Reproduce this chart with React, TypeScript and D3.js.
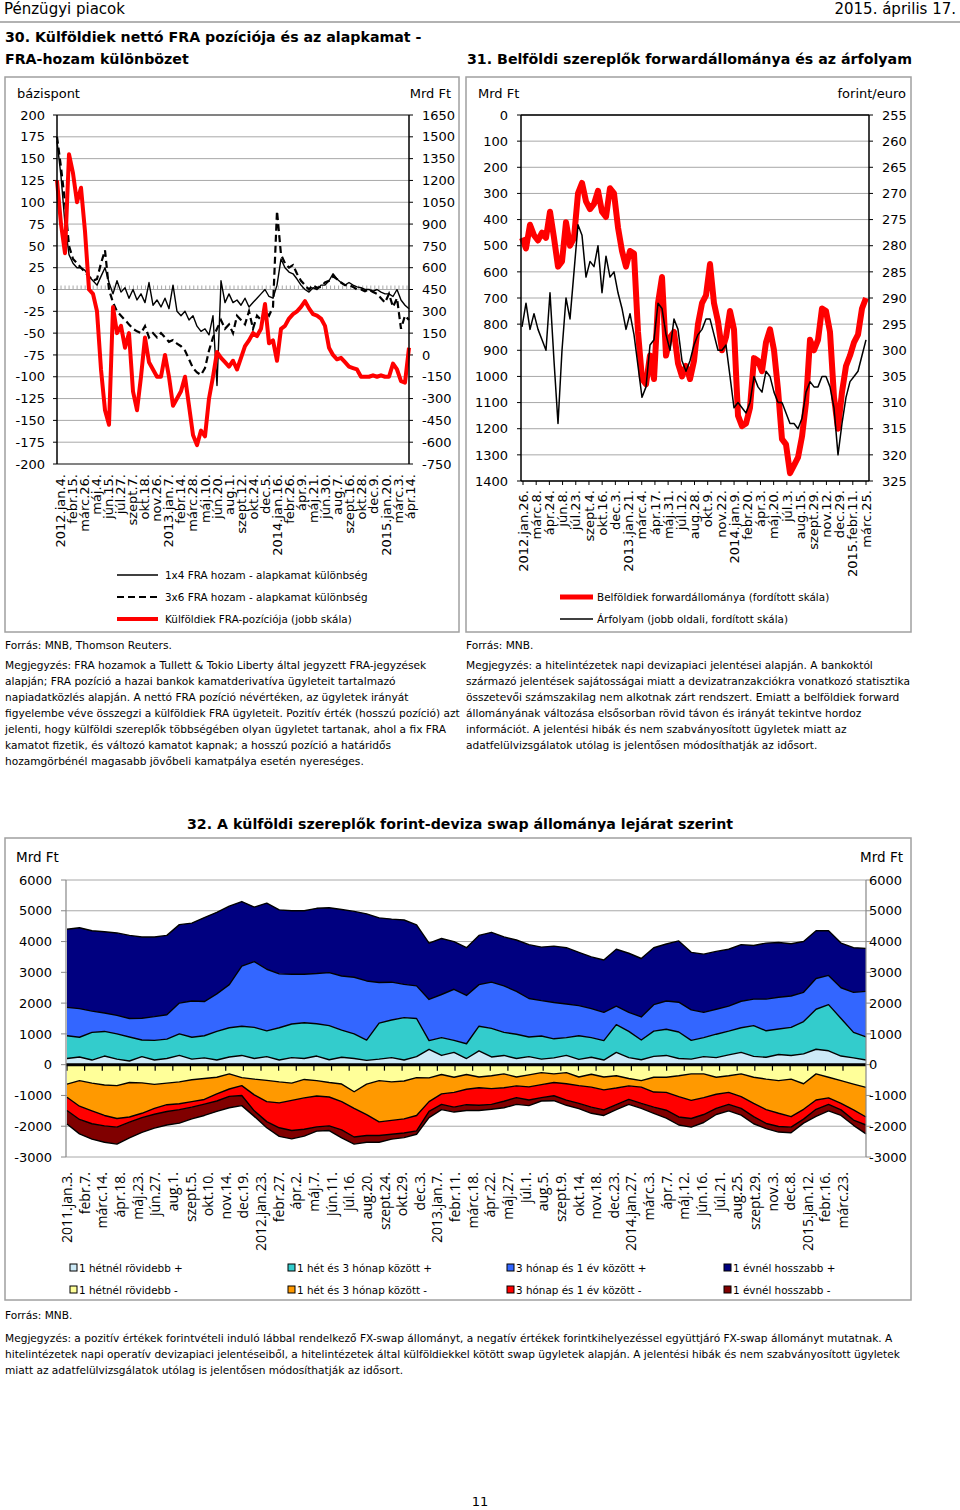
import React from 'react';
import * as d3 from 'd3';

// ---- fonts / colours ----
const SANS = "'DejaVu Sans', Verdana, sans-serif";
const GRID = '#a8a8a8';
const FRAME = '#a0a0a0';

// ---- chart 30: FRA ----
const fraDateLabels = [
  '2012.jan.4.', 'febr.15.', 'márc.26.', 'máj.4.', 'jún.15.', 'júl.27.', 'szept.7.', 'okt.18.', 'nov.26.',
  '2013.jan.7.', 'febr.14.', 'márc.28.', 'máj.10.', 'jún.20.', 'aug.1.', 'szept.12.', 'okt.24.', 'dec.5.',
  '2014.jan.16.', 'febr.26.', 'ápr.9.', 'máj.21.', 'jún.30.', 'aug.7.', 'szept.16.', 'okt.28.', 'dec.9.',
  '2015.jan.20.', 'márc.3.', 'ápr.14.',
];
// bázispont
const spread1x4 = [
  170, 130, 75, 40, 30, 25, 25, 22, 15, 10, 5, 15, 25, 8, -5, 10, -3, 2, -10, 0,
  -12, -5, -15, 8, -18, -12, -20, -10, -22, 5, -25, -30, -25, -35, -30, -42, -48, -45, -52, -30,
  -110, 10, -15, -5, -15, -12, -18, -10, -20, -15, -10, -5, 0, -8, -10, 5, 35, 25, 20, 18,
  12, 5, 0, -3, 2, 0, 5, 5, 10, 18, 12, 8, 5, 8, 5, 3, 2, 0, 0, -2,
  0, -3, -5, -5, -8, 0, -12, -18, -22,
];
const spread3x6 = [
  175, 140, 100, 50, 35, 30, 25, 20, 15, 10, 12, 30, 45, 0, -15, -25, -30, -35, -40, -45,
  -48, -50, -42, -55, -50, -55, -50, -55, -60, -58, -62, -65, -70, -80, -90, -95, -98, -90, -70, -55,
  -45, -35, -45, -40, -50, -30, -35, -40, -25, -45, -30, -35, -25, -30, -20, 90, 40, 30, 25, 28,
  18, 10, 5, 0, 5, 2, 3, 8, 10, 15, 12, 8, 5, 5, 3, 0, 0, -2, 0, -3,
  -5, -10, -15, -5, -20, -10, -45, -30, -35,
];
// Mrd Ft
const fraPosition = [
  1200, 900, 700, 1380, 1250, 1050, 1150, 850, 450, 420, 300, -100, -380, -480, 330, 150, 200, 50, 150, -250,
  -380, -150, 120, -50, -100, -150, -150, 0, -150, -350, -300, -250, -150, -350, -550, -620, -520, -560, -300, -150,
  20, -20, -50, -80, -40, -100, -20, 60, 100, 150, 130, 180, 350, 80, 100, -40, 180, 200, 250, 280,
  300, 330, 370, 320, 280, 270, 250, 200, 50, 0, -30, -20, -50, -80, -90, -100, -150, -150, -150, -140,
  -150, -140, -150, -150, -60, -100, -180, -190, 50,
];

// ---- chart 31: forward ----
const fwdDateLabels = [
  '2012.jan.26.', 'márc.8.', 'ápr.24.', 'jún.8.', 'júl.23.', 'szept.4.', 'okt.16.', 'dec.3.',
  '2013.jan.21.', 'márc.4.', 'ápr.17.', 'máj.31.', 'júl.12.', 'aug.28.', 'okt.9.', 'nov.22.',
  '2014.jan.9.', 'febr.20.', 'ápr.3.', 'máj.20.', 'júl.3.', 'aug.15.', 'szept.29.', 'nov.12.', 'dec.29.',
  '2015.febr.11.', 'márc.25.',
];
// Mrd Ft (fordított skála)
const forwardStock = [
  470, 510, 420, 460, 480, 450, 470, 370, 470, 580, 560, 410, 500, 470, 300, 260, 330, 360, 340, 290,
  370, 390, 280, 300, 430, 520, 580, 520, 530, 830, 1010, 1030, 920, 1010, 720, 620, 920, 850, 830, 950,
  1000, 960, 1010, 940, 800, 720, 690, 570, 720, 790, 900, 850, 750, 820, 1150, 1190, 1180, 1120, 930, 940,
  980, 870, 820, 900, 1050, 1240, 1260, 1370, 1340, 1310, 1230, 1100, 860, 900, 860, 740, 750, 830, 1080, 1200,
  1060, 960, 920, 870, 840, 740, 700,
];
// forint/euro (fordított skála)
const eurHuf = [
  295.5, 291, 296, 293, 296, 298, 300, 289, 302, 314, 300, 290, 294, 285, 276, 278, 286, 283, 284, 280,
  289, 282, 286, 285, 289, 292, 296, 293, 297, 303, 309, 307, 299, 298, 291, 292, 297, 300, 294, 296,
  302, 304, 302, 299, 297, 296, 294, 294, 297, 300, 300, 299, 305, 311, 310, 311, 312, 310, 305, 307,
  308, 304, 305, 308, 310, 310, 312, 314, 314, 315, 313, 308, 306, 307, 307, 305, 305, 307, 311, 320,
  314, 309, 306, 305, 304, 301, 298,
];

// ---- chart 32: swap by maturity ----
const swapDateLabels = [
  '2011.jan.3.', 'febr.7.', 'márc.14.', 'ápr.18.', 'máj.23.', 'jún.27.', 'aug.1.', 'szept.5.', 'okt.10.', 'nov.14.', 'dec.19.',
  '2012.jan.23.', 'febr.27.', 'ápr.2.', 'máj.7.', 'jún.11.', 'júl.16.', 'aug.20.', 'szept.24.', 'okt.29.', 'dec.3.',
  '2013.jan.7.', 'febr.11.', 'márc.18.', 'ápr.22.', 'máj.27.', 'júl.1.', 'aug.5.', 'szept.9.', 'okt.14.', 'nov.18.', 'dec.23.',
  '2014.jan.27.', 'márc.3.', 'ápr.7.', 'máj.12.', 'jún.16.', 'júl.21.', 'aug.25.', 'szept.29.', 'nov.3.', 'dec.8.',
  '2015.jan.12.', 'febr.16.', 'márc.23.',
];
const shortPlus = [
  200, 250, 150, 280, 180, 120, 260, 150, 200, 300, 180, 220, 150, 250, 300, 200, 260, 150, 230, 200,
  280, 160, 240, 200, 140, 180, 230, 150, 260, 500, 300, 400, 200, 450, 250, 300, 200, 260, 180, 220,
  300, 170, 240, 150, 400, 230, 160, 270, 300, 200, 180, 260, 230, 320, 400, 270, 240, 330, 300, 350,
  500, 450, 280, 220, 150,
];
const midPlus = [
  740, 640, 900, 800, 820, 780, 540, 640, 630, 700, 710, 720, 930, 950, 950, 1010, 840, 1050, 1090, 1160,
  1050, 1110, 880, 800, 660, 1170, 1220, 1380, 1240, 280, 580, 390, 480, 800, 930, 750, 790, 640, 750, 620,
  580, 770, 640, 630, 900, 850, 640, 820, 850, 860, 610, 620, 760, 770, 800, 1000, 860, 830, 910, 1050,
  1300, 1500, 1220, 830, 750,
];
const quarterPlus = [
  920, 930, 690, 600, 600, 600, 710, 770, 790, 1000, 1180, 1110, 1220, 1400, 1950, 2140, 2000, 1750, 1620, 1580,
  1630, 1720, 1760, 1840, 1920, 1320, 1230, 1080, 1060, 1340, 1400, 1660, 1570, 1350, 1500, 1510, 1390, 1250, 1150, 1180,
  1090, 980, 940, 920, 600, 620, 750, 860, 920, 970, 990, 820, 810, 810, 860, 860, 1030, 1030, 1020, 950,
  1000, 950, 1000, 1300, 1480,
];
const longPlus = [
  2540, 2630, 2610, 2640, 2680, 2700, 2640, 2590, 2580, 2550, 2530, 2730, 2650, 2550, 2100, 1770, 2150, 2080, 2060, 2060,
  2120, 2110, 2160, 2140, 2180, 2100, 2050, 2090, 1980, 1830, 1820, 1550, 1550, 1600, 1620, 1590, 1670, 1750, 1740, 1830,
  1830, 1730, 1680, 1700, 1850, 1920, 1900, 1850, 1850, 1990, 1870, 1890, 1880, 1850, 1840, 1740, 1820, 1780, 1700, 1650,
  1550, 1450, 1450, 1450, 1400,
];
const shortMinus = [
  -630, -520, -600, -660, -680, -580, -590, -640, -600, -560, -490, -450, -410, -300, -420, -470, -510, -560, -600, -480,
  -520, -580, -630, -880, -630, -520, -560, -530, -420, -430, -320, -410, -320, -400, -360, -300, -400, -330, -260, -300,
  -260, -400, -310, -400, -360, -450, -520, -410, -410, -360, -300, -300, -410, -360, -300, -410, -470, -520, -470, -620,
  -300, -410, -520, -630, -740,
];
const midMinus = [
  -430, -830, -900, -990, -1070, -1120, -990, -780, -700, -710, -710, -680, -540, -490, -260, -510, -690, -680, -560, -600,
  -500, -470, -570, -540, -990, -1340, -1250, -1230, -1230, -770, -630, -490, -480, -350, -420, -450, -290, -390, -390, -280,
  -360, -280, -420, -420, -400, -240, -210, -480, -490, -680, -860, -770, -550, -540, -740, -850, -990, -1060, -1220, -830,
  -850, -670, -740, -840, -960,
];
const quarterMinus = [
  -430, -430, -420, -340, -280, -170, -140, -190, -220, -190, -180, -150, -230, -240, -320, -520, -650, -810, -980, -1020,
  -1000, -940, -920, -930, -680, -440, -450, -460, -500, -320, -340, -480, -500, -570, -510, -440, -380, -430, -420, -430,
  -530, -580, -650, -650, -540, -440, -530, -490, -580, -660, -590, -550, -460, -390, -380, -430, -450, -430, -340, -320,
  -300, -210, -210, -330, -260,
];
const longMinus = [
  -440, -470, -500, -530, -550, -510, -480, -450, -440, -440, -380, -370, -340, -370, -330, -180, -200, -280, -270, -220,
  -140, -150, -260, -230, -220, -220, -160, -150, -110, -200, -170, -160, -190, -170, -160, -210, -220, -180, -110, -160,
  -170, -170, -200, -180, -160, -160, -160, -200, -260, -260, -280, -260, -200, -210, -220, -230, -170, -180, -180, -130,
  -230, -210, -180, -170, -290,
];

const swapSeries = [
  { key: 'shortPlus', name: '1 hétnél rövidebb +', color: '#cdeaf7', values: shortPlus },
  { key: 'shortMinus', name: '1 hétnél rövidebb -', color: '#ffff99', values: shortMinus },
  { key: 'midPlus', name: '1 hét és 3 hónap között +', color: '#33cccc', values: midPlus },
  { key: 'midMinus', name: '1 hét és 3 hónap között -', color: '#ff9900', values: midMinus },
  { key: 'quarterPlus', name: '3 hónap és 1 év között +', color: '#3366ff', values: quarterPlus },
  { key: 'quarterMinus', name: '3 hónap és 1 év között -', color: '#ff0000', values: quarterMinus },
  { key: 'longPlus', name: '1 évnél hosszabb +', color: '#000080', values: longPlus },
  { key: 'longMinus', name: '1 évnél hosszabb -', color: '#800000', values: longMinus },
];

const fraNote = [
  'Megjegyzés: FRA hozamok a Tullett & Tokio Liberty által jegyzett FRA-jegyzések',
  'alapján; FRA pozíció a hazai bankok kamatderivatíva ügyleteit tartalmazó',
  'napiadatközlés alapján. A nettó FRA pozíció névértéken, az ügyletek irányát',
  'figyelembe véve összegzi a külföldiek FRA ügyleteit. Pozitív érték (hosszú pozíció) azt',
  'jelenti, hogy külföldi szereplők többségében olyan ügyletet tartanak, ahol a fix FRA',
  'kamatot fizetik, és változó kamatot kapnak; a hosszú pozíció a határidős',
  'hozamgörbénél magasabb jövőbeli kamatpálya esetén nyereséges.',
];
const fwdNote = [
  'Megjegyzés: a hitelintézetek napi devizapiaci jelentései alapján. A bankoktól',
  'származó jelentések sajátosságai miatt a devizatranzakciókra vonatkozó statisztika',
  'összetevői számszakilag nem alkotnak zárt rendszert. Emiatt a belföldiek forward',
  'állományának változása elsősorban rövid távon és irányát tekintve hordoz',
  'információt. A jelentési hibák és nem szabványosított ügyletek miatt az',
  'adatfelülvizsgálatok utólag is jelentősen módosíthatják az idősort.',
];
const swapNote = [
  'Megjegyzés: a pozitív értékek forintvételi induló lábbal rendelkező FX-swap állományt, a negatív értékek forintkihelyezéssel együttjáró FX-swap állományt mutatnak. A',
  'hitelintézetek napi operatív devizapiaci jelentéseiből, a hitelintézetek által külföldiekkel kötött swap ügyletek alapján. A jelentési hibák és nem szabványosított ügyletek',
  'miatt az adatfelülvizsgálatok utólag is jelentősen módosíthatják az idősort.',
];

function RotatedLabels({ labels, x, yEnd, size, family }: { labels: string[]; x: d3.ScalePoint<string>; yEnd: number; size: number; family: string }) {
  return (
    <g fontSize={size} fontFamily={family}>
      {labels.map((l, i) => (
        <text key={i} transform={`translate(${x(l)},${yEnd}) rotate(-90)`} textAnchor="end" dy="0.36em">{l}</text>
      ))}
    </g>
  );
}

function NoteLines({ lines, x, y0, step = 16 }: { lines: string[]; x: number; y0: number; step?: number }) {
  return (
    <g fontSize={10.6} fontFamily={SANS}>
      {lines.map((l, i) => <text key={i} x={x} y={y0 + i * step}>{l}</text>)}
    </g>
  );
}

// ---------------- chart 30 ----------------
function FraChart() {
  const left = 57, right = 409, top = 115, bottom = 464;
  const yL = d3.scaleLinear().domain([-200, 200]).range([bottom, top]);
  const yR = d3.scaleLinear().domain([-750, 1650]).range([bottom, top]);
  const xi = d3.scaleLinear().domain([0, spread1x4.length - 1]).range([left, right]);
  const xLab = d3.scalePoint<string>().domain(fraDateLabels).range([60, 410]);
  const lineL = d3.line<number>().x((_, i) => xi(i)).y(d => yL(d));
  const lineR = d3.line<number>().x((_, i) => xi(i)).y(d => yR(d));
  const leftTicks = d3.range(-200, 201, 25);
  const rightTicks = d3.range(-750, 1651, 150);
  const minor = d3.range(left, right, xLab.step() / 3);

  return (
    <g>
      <rect x={5} y={77} width={454} height={555} fill="none" stroke={FRAME} strokeWidth={1.5} />
      <text x={17} y={98} fontSize={13} fontFamily={SANS}>bázispont</text>
      <text x={451} y={98} fontSize={13} fontFamily={SANS} textAnchor="end">Mrd Ft</text>
      {leftTicks.map(t => (
        <line key={t} x1={left} x2={right} y1={yL(t)} y2={yL(t)} stroke={GRID} strokeWidth={1} />
      ))}
      {minor.map((m, i) => (
        <line key={i} x1={m} x2={m} y1={yL(0) - 4} y2={yL(0)} stroke={GRID} strokeWidth={1} />
      ))}
      <g fontSize={13} fontFamily={SANS}>
        {leftTicks.map(t => (
          <g key={t}>
            <line x1={left - 4} x2={left} y1={yL(t)} y2={yL(t)} stroke="#000" />
            <text x={45} y={yL(t)} dy="0.36em" textAnchor="end">{t}</text>
          </g>
        ))}
        {rightTicks.map(t => (
          <g key={t}>
            <line x1={right} x2={right + 4} y1={yR(t)} y2={yR(t)} stroke="#000" />
            <text x={422} y={yR(t)} dy="0.36em">{t}</text>
          </g>
        ))}
      </g>
      <path d={lineL(spread3x6) ?? ''} fill="none" stroke="#000" strokeWidth={2.2} strokeDasharray="7 4" />
      <path d={lineL(spread1x4) ?? ''} fill="none" stroke="#000" strokeWidth={1.4} strokeLinejoin="round" />
      <path d={lineR(fraPosition) ?? ''} fill="none" stroke="#ff0000" strokeWidth={4} strokeLinejoin="round" />
      <line x1={left} x2={right} y1={top} y2={top} stroke="#333" strokeWidth={1.2} />
      <line x1={left} x2={right} y1={bottom} y2={bottom} stroke="#333" strokeWidth={1.2} />
      <line x1={left} x2={left} y1={top} y2={bottom} stroke="#000" strokeWidth={1.5} />
      <line x1={right} x2={right} y1={top} y2={bottom} stroke="#000" strokeWidth={1.5} />
      <RotatedLabels labels={fraDateLabels} x={xLab} yEnd={474} size={13} family={SANS} />
      <g fontSize={10.4} fontFamily={SANS}>
        <line x1={117} x2={158} y1={575} y2={575} stroke="#000" strokeWidth={1.5} />
        <text x={165} y={579}>1x4 FRA hozam - alapkamat különbség</text>
        <line x1={117} x2={158} y1={597} y2={597} stroke="#000" strokeWidth={2} strokeDasharray="7 4" />
        <text x={165} y={601}>3x6 FRA hozam - alapkamat különbség</text>
        <line x1={117} x2={158} y1={619} y2={619} stroke="#ff0000" strokeWidth={4} />
        <text x={165} y={623}>Külföldiek FRA-pozíciója (jobb skála)</text>
      </g>
      <text x={5} y={649} fontSize={10.6} fontFamily={SANS}>Forrás: MNB, Thomson Reuters.</text>
      <NoteLines lines={fraNote} x={5} y0={669} />
    </g>
  );
}

// ---------------- chart 31 ----------------
function ForwardChart() {
  const left = 521, right = 869, top = 115, bottom = 481;
  const yL = d3.scaleLinear().domain([0, 1400]).range([top, bottom]);
  const yR = d3.scaleLinear().domain([255, 325]).range([top, bottom]);
  const xi = d3.scaleLinear().domain([0, forwardStock.length - 1]).range([left + 1, right - 3]);
  const xLab = d3.scalePoint<string>().domain(fwdDateLabels).range([523, 866]);
  const lineL = d3.line<number>().x((_, i) => xi(i)).y(d => yL(d));
  const lineR = d3.line<number>().x((_, i) => xi(i)).y(d => yR(d));
  const leftTicks = d3.range(0, 1401, 100);
  const rightTicks = d3.range(255, 326, 5);

  return (
    <g>
      <rect x={466} y={77} width={445} height={555} fill="none" stroke={FRAME} strokeWidth={1.5} />
      <text x={478} y={98} fontSize={13} fontFamily={SANS}>Mrd Ft</text>
      <text x={906} y={98} fontSize={13} fontFamily={SANS} textAnchor="end">forint/euro</text>
      {leftTicks.map(t => (
        <line key={t} x1={left} x2={right} y1={yL(t)} y2={yL(t)} stroke={GRID} strokeWidth={1} />
      ))}
      <g fontSize={13} fontFamily={SANS}>
        {leftTicks.map(t => (
          <g key={t}>
            <line x1={left - 4} x2={left} y1={yL(t)} y2={yL(t)} stroke="#000" />
            <text x={508} y={yL(t)} dy="0.36em" textAnchor="end">{t}</text>
          </g>
        ))}
        {rightTicks.map(t => (
          <g key={t}>
            <line x1={right} x2={right + 4} y1={yR(t)} y2={yR(t)} stroke="#000" />
            <text x={882} y={yR(t)} dy="0.36em">{t}</text>
          </g>
        ))}
      </g>
      <path d={lineL(forwardStock) ?? ''} fill="none" stroke="#ff0000" strokeWidth={6} strokeLinejoin="round" />
      <path d={lineR(eurHuf) ?? ''} fill="none" stroke="#000" strokeWidth={1.5} strokeLinejoin="round" />
      <line x1={left} x2={right} y1={top} y2={top} stroke="#000" strokeWidth={1.5} />
      <line x1={left} x2={right} y1={bottom} y2={bottom} stroke="#000" strokeWidth={1.5} />
      <line x1={left} x2={left} y1={top} y2={bottom} stroke="#000" strokeWidth={1.5} />
      <line x1={right} x2={right} y1={top} y2={bottom} stroke="#000" strokeWidth={1.5} />
      {fwdDateLabels.map((l, i) => (
        <line key={i} x1={xLab(l)} x2={xLab(l)} y1={bottom} y2={bottom + 4} stroke="#000" />
      ))}
      <RotatedLabels labels={fwdDateLabels} x={xLab} yEnd={490} size={13} family={SANS} />
      <g fontSize={10.4} fontFamily={SANS}>
        <line x1={560} x2={593} y1={597} y2={597} stroke="#ff0000" strokeWidth={5} />
        <text x={597} y={601}>Belföldiek forwardállománya (fordított skála)</text>
        <line x1={560} x2={593} y1={619} y2={619} stroke="#000" strokeWidth={1.5} />
        <text x={597} y={623}>Árfolyam (jobb oldali, fordított skála)</text>
      </g>
      <text x={466} y={649} fontSize={10.6} fontFamily={SANS}>Forrás: MNB.</text>
      <NoteLines lines={fwdNote} x={466} y0={669} />
    </g>
  );
}

// ---------------- chart 32 ----------------
function SwapChart() {
  const left = 66, right = 866, top = 880, bottom = 1157;
  const y = d3.scaleLinear().domain([-3000, 6000]).range([bottom, top]);
  const n = shortPlus.length;
  const xi = d3.scaleLinear().domain([0, n - 1]).range([left + 1, right]);
  const xLab = d3.scalePoint<string>().domain(swapDateLabels).range([67, 843]);
  const rows = d3.range(n).map(i => {
    const r: Record<string, number> = {};
    swapSeries.forEach(s => { r[s.key] = s.values[i]; });
    return r;
  });
  const layers = d3.stack<Record<string, number>>()
    .keys(swapSeries.map(s => s.key))
    .offset(d3.stackOffsetDiverging)(rows);
  const area = d3.area<d3.SeriesPoint<Record<string, number>>>()
    .x((_, i) => xi(i)).y0(d => y(d[0])).y1(d => y(d[1]));
  const edge = (neg: boolean) => d3.line<d3.SeriesPoint<Record<string, number>>>()
    .x((_, i) => xi(i)).y(d => y(neg ? d[0] : d[1]));
  const ticks = d3.range(-3000, 6001, 1000);
  const legendCols = [70, 288, 507, 724];

  return (
    <g>
      <text x={460} y={829} fontSize={14.2} fontWeight="bold" fontFamily={SANS} textAnchor="middle">
        32. A külföldi szereplők forint-deviza swap állománya lejárat szerint
      </text>
      <rect x={5} y={838} width={906} height={462} fill="none" stroke={FRAME} strokeWidth={1.5} />
      <text x={16} y={862} fontSize={13.5} fontFamily={SANS}>Mrd Ft</text>
      <text x={903} y={862} fontSize={13.5} fontFamily={SANS} textAnchor="end">Mrd Ft</text>
      {ticks.map(t => (
        <line key={t} x1={left} x2={right} y1={y(t)} y2={y(t)} stroke={GRID} strokeWidth={1} />
      ))}
      {layers.map((layer, i) => (
        <path key={layer.key} d={area(layer) ?? ''} fill={swapSeries[i].color} />
      ))}
      {layers.map((layer, i) => (
        <path key={'e' + layer.key} d={edge(swapSeries[i].values[0] < 0)(layer) ?? ''}
          fill="none" stroke="#000" strokeWidth={1.4} strokeLinejoin="round" />
      ))}
      <line x1={left} x2={right} y1={y(0)} y2={y(0)} stroke="#000" strokeWidth={3} />
      {swapDateLabels.map((l, i) => (
        <line key={i} x1={xLab(l)} x2={xLab(l)} y1={y(0)} y2={y(0) + 6} stroke="#000" strokeWidth={1.2} />
      ))}
      <line x1={left} x2={left} y1={top} y2={bottom} stroke="#888" strokeWidth={1.2} />
      <line x1={right} x2={right} y1={top} y2={bottom} stroke="#888" strokeWidth={1.2} />
      <g fontSize={13} fontFamily={SANS}>
        {ticks.map(t => (
          <g key={t}>
            <line x1={left - 5} x2={left} y1={y(t)} y2={y(t)} stroke="#888" />
            <line x1={right} x2={right + 5} y1={y(t)} y2={y(t)} stroke="#888" />
            <text x={52} y={y(t)} dy="0.36em" textAnchor="end">{t}</text>
            <text x={869} y={y(t)} dy="0.36em">{t}</text>
          </g>
        ))}
      </g>
      <RotatedLabels labels={swapDateLabels} x={xLab} yEnd={1172} size={14} family="'Open Sans', sans-serif" />
      <g fontSize={10.4} fontFamily={SANS}>
        {swapSeries.map((s, i) => {
          const col = legendCols[Math.floor(i / 2)];
          const rowY = i % 2 === 0 ? 1268 : 1290;
          return (
            <g key={s.key}>
              <rect x={col} y={rowY - 4} width={7} height={7} fill={s.color} stroke="#000" strokeWidth={1} />
              <text x={col + 9} y={rowY + 4}>{s.name}</text>
            </g>
          );
        })}
      </g>
      <text x={5} y={1319} fontSize={10.6} fontFamily={SANS}>Forrás: MNB.</text>
      <NoteLines lines={swapNote} x={5} y0={1342} />
    </g>
  );
}

export default function App() {
  return (
    <div style={{ position: 'absolute', left: 0, top: 0, background: '#fff' }}>
      <svg width={960} height={1510} viewBox="0 0 960 1510" style={{ display: 'block', background: '#fff' }}>
        <text x={4} y={14} fontSize={15} fontFamily={SANS}>Pénzügyi piacok</text>
        <text x={956} y={14} fontSize={15} fontFamily={SANS} textAnchor="end">2015. április 17.</text>
        <line x1={0} x2={960} y1={22} y2={22} stroke="#999" strokeWidth={1.5} />
        <g fontSize={14.2} fontWeight="bold" fontFamily={SANS}>
          <text x={5} y={42}>30. Külföldiek nettó FRA pozíciója és az alapkamat -</text>
          <text x={5} y={64}>FRA-hozam különbözet</text>
          <text x={467} y={64}>31. Belföldi szereplők forwardállománya és az árfolyam</text>
        </g>
        <FraChart />
        <ForwardChart />
        <SwapChart />
        <text x={480} y={1506} fontSize={13} fontFamily={SANS} textAnchor="middle">11</text>
      </svg>
    </div>
  );
}
